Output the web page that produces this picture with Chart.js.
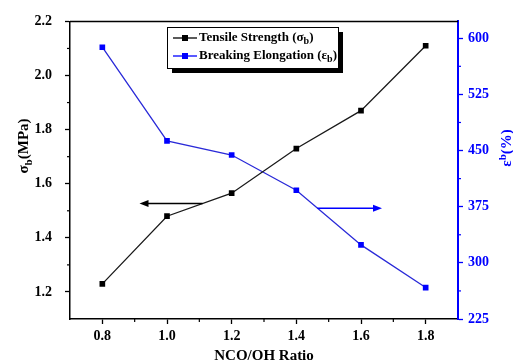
<!DOCTYPE html>
<html>
<head>
<meta charset="utf-8">
<script src="https://cdn.jsdelivr.net/npm/chart.js@4"></script>
<style>
  html, body { margin: 0; padding: 0; background: #fff; }
  #wrap { width: 513px; height: 364px; }
</style>
</head>
<body>
<div id="wrap"><canvas id="chart" width="513" height="364"></canvas></div>
<script>
// data
const ratios = [0.8, 1.0, 1.2, 1.4, 1.6, 1.8];
const tensileStrength = [1.23, 1.48, 1.565, 1.73, 1.87, 2.11];
const breakingElongation = [588, 463, 444, 397, 324, 267];

// tick labels
const xTicks = [0.8, 1.0, 1.2, 1.4, 1.6, 1.8];
const leftTicks = [1.2, 1.4, 1.6, 1.8, 2.0, 2.2];
const rightTicks = [225, 300, 375, 450, 525, 600];
const xMinor = [0.9, 1.1, 1.3, 1.5, 1.7];
const leftMinor = [1.3, 1.5, 1.7, 1.9, 2.1];
const rightMinor = [262.5, 337.5, 412.5, 487.5, 562.5];

const FONT = '"Liberation Serif", "Times New Roman", serif';
const BLUE = '#0000ff';

// draw a run of text pieces (normal + subscript) starting at x
function drawRuns(ctx, runs, x, y) {
    runs.forEach(r => {
        ctx.font = 'bold ' + r.size + 'px ' + FONT;
        ctx.fillText(r.text, x, y + (r.dy || 0));
        x += ctx.measureText(r.text).width;
    });
}
function runsWidth(ctx, runs) {
    let w = 0;
    runs.forEach(r => {
        ctx.font = 'bold ' + r.size + 'px ' + FONT;
        w += ctx.measureText(r.text).width;
    });
    return w;
}

function arrow(ctx, x1, y1, x2, y2, color) {
    ctx.save();
    ctx.strokeStyle = color;
    ctx.fillStyle = color;
    ctx.lineWidth = 1.5;
    const dir = Math.sign(x2 - x1);
    ctx.beginPath();
    ctx.moveTo(x1, y1);
    ctx.lineTo(x2 - dir * 7, y2);
    ctx.stroke();
    ctx.beginPath();
    ctx.moveTo(x2, y2);
    ctx.lineTo(x2 - dir * 9, y2 - 3.5);
    ctx.lineTo(x2 - dir * 9, y2 + 3.5);
    ctx.closePath();
    ctx.fill();
    ctx.restore();
}

const extras = {
    id: 'extras',
    afterDraw(chart) {
        const ctx = chart.ctx;
        const a = chart.chartArea;
        const sx = chart.scales.x, sy = chart.scales.y, sy1 = chart.scales.y1;
        ctx.save();

        // top frame line
        ctx.strokeStyle = '#000';
        ctx.lineWidth = 1.5;
        ctx.beginPath();
        ctx.moveTo(a.left, a.top);
        ctx.lineTo(a.right, a.top);
        ctx.stroke();

        // minor ticks
        ctx.lineWidth = 1.2;
        xMinor.forEach(v => {
            const px = sx.getPixelForValue(v);
            ctx.beginPath(); ctx.moveTo(px, a.bottom); ctx.lineTo(px, a.bottom + 3); ctx.stroke();
        });
        leftMinor.forEach(v => {
            const py = sy.getPixelForValue(v);
            ctx.beginPath(); ctx.moveTo(a.left, py); ctx.lineTo(a.left - 3, py); ctx.stroke();
        });
        ctx.strokeStyle = BLUE;
        rightMinor.forEach(v => {
            const py = sy1.getPixelForValue(v);
            ctx.beginPath(); ctx.moveTo(a.right, py); ctx.lineTo(a.right + 3, py); ctx.stroke();
        });

        // arrows pointing to each axis
        const ay = sy.getPixelForValue(1.527);
        arrow(ctx, sx.getPixelForValue(1.11), ay, sx.getPixelForValue(0.915), ay, '#000');
        const by = sy1.getPixelForValue(373);
        arrow(ctx, sx.getPixelForValue(1.465), by, sx.getPixelForValue(1.665), by, BLUE);

        // legend box with shadow
        const lx = 167, ly = 27, lw = 171, lh = 41;
        ctx.fillStyle = '#000';
        ctx.fillRect(lx + 5, ly + 5, lw, lh);
        ctx.fillStyle = '#fff';
        ctx.fillRect(lx, ly, lw, lh);
        ctx.strokeStyle = '#000';
        ctx.lineWidth = 1;
        ctx.strokeRect(lx + 0.5, ly + 0.5, lw, lh);

        const rows = [
            { color: '#000', y: 38, runs: [{ text: 'Tensile Strength (σ', size: 13 }, { text: 'b', size: 10, dy: 3 }, { text: ')', size: 13 }] },
            { color: BLUE, y: 56, runs: [{ text: 'Breaking Elongation (ε', size: 13 }, { text: 'b', size: 10, dy: 3 }, { text: ')', size: 13 }] }
        ];
        rows.forEach(r => {
            ctx.strokeStyle = r.color;
            ctx.fillStyle = r.color;
            ctx.lineWidth = 1.3;
            ctx.beginPath(); ctx.moveTo(173, r.y); ctx.lineTo(197, r.y); ctx.stroke();
            ctx.fillRect(182, r.y - 3, 6, 6);
            ctx.fillStyle = '#000';
            ctx.textBaseline = 'middle';
            ctx.textAlign = 'left';
            drawRuns(ctx, r.runs, 199, r.y);
        });

        // axis titles
        ctx.fillStyle = '#000';
        ctx.textAlign = 'center';
        ctx.textBaseline = 'middle';
        ctx.font = 'bold 15px ' + FONT;
        ctx.fillText('NCO/OH Ratio', (a.left + a.right) / 2, 356);

        ctx.textAlign = 'left';
        const leftRuns = [{ text: 'σ', size: 15 }, { text: 'b', size: 11, dy: 5 }, { text: '(MPa)', size: 15 }];
        ctx.save();
        ctx.translate(24, 146);
        ctx.rotate(-Math.PI / 2);
        drawRuns(ctx, leftRuns, -runsWidth(ctx, leftRuns) / 2, 0);
        ctx.restore();

        ctx.fillStyle = BLUE;
        const rightRuns = [{ text: 'ε', size: 15 }, { text: 'b', size: 11, dy: -4 }, { text: '(%)', size: 15 }];
        ctx.save();
        ctx.translate(507, 148);
        ctx.rotate(-Math.PI / 2);
        drawRuns(ctx, rightRuns, -runsWidth(ctx, rightRuns) / 2, 0);
        ctx.restore();

        ctx.restore();
    }
};

const tickFont = { family: FONT, size: 14, weight: 'bold' };

new Chart(document.getElementById('chart'), {
    type: 'line',
    data: {
        datasets: [{
            label: 'Tensile Strength',
            data: ratios.map((r, i) => ({ x: r, y: tensileStrength[i] })),
            yAxisID: 'y',
            borderColor: '#1a1a1a',
            backgroundColor: '#000',
            borderWidth: 1.3,
            pointStyle: 'rect',
            pointRadius: 4,
            pointBorderWidth: 0,
            tension: 0
        }, {
            label: 'Breaking Elongation',
            data: ratios.map((r, i) => ({ x: r, y: breakingElongation[i] })),
            yAxisID: 'y1',
            borderColor: '#2a2ad8',
            backgroundColor: BLUE,
            borderWidth: 1.3,
            pointStyle: 'rect',
            pointRadius: 4,
            pointBorderWidth: 0,
            tension: 0
        }]
    },
    options: {
        responsive: false,
        animation: false,
        layout: { padding: { top: 18, left: 0, right: 0, bottom: 0 } },
        plugins: { legend: { display: false }, tooltip: { enabled: false } },
        scales: {
            x: {
                type: 'linear',
                position: 'bottom',
                min: 0.7,
                max: 1.9,
                afterFit: s => { s.height = 45; },
                afterBuildTicks: s => { s.ticks = xTicks.map(v => ({ value: v })); },
                ticks: { font: tickFont, color: '#000', padding: 4, maxRotation: 0, autoSkip: false, callback: v => v.toFixed(1) },
                grid: { drawOnChartArea: false, drawTicks: true, tickLength: 5, tickColor: '#000', tickWidth: 1.3 },
                border: { color: '#000', width: 1.5 }
            },
            y: {
                position: 'left',
                min: 1.1,
                max: 2.2,
                afterFit: s => { s.width = 70; },
                afterBuildTicks: s => { s.ticks = leftTicks.map(v => ({ value: v })); },
                ticks: { font: tickFont, color: '#000', padding: 13, callback: v => v.toFixed(1) },
                grid: { drawOnChartArea: false, drawTicks: true, tickLength: 5, tickColor: '#000', tickWidth: 1.3 },
                border: { color: '#000', width: 1.5 }
            },
            y1: {
                position: 'right',
                min: 225,
                max: 622.5,
                afterFit: s => { s.width = 55; },
                afterBuildTicks: s => { s.ticks = rightTicks.map(v => ({ value: v })); },
                ticks: { font: tickFont, color: BLUE, padding: 5, callback: v => String(v) },
                grid: { drawOnChartArea: false, drawTicks: true, tickLength: 5, tickColor: BLUE, tickWidth: 1.3 },
                border: { color: BLUE, width: 2 }
            }
        }
    },
    plugins: [extras]
});
</script>
</body>
</html>
